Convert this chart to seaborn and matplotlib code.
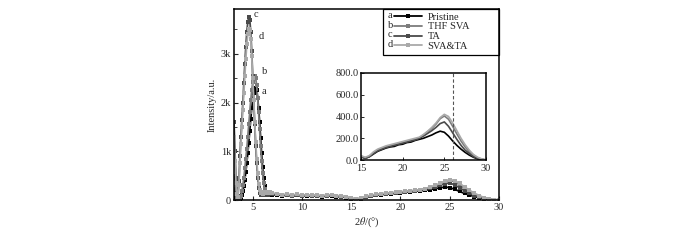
import matplotlib
matplotlib.use("Agg")
import matplotlib.pyplot as plt
import seaborn as sns
import pandas as pd
from matplotlib.lines import Line2D
from matplotlib.patches import Rectangle
from matplotlib.ticker import MultipleLocator

# 2-theta grid (deg)
two_theta = [3.1, 3.2, 3.3, 3.4, 3.5, 3.6, 3.7, 3.8, 3.9, 4.0, 4.1, 4.2, 4.3, 4.4,
             4.5, 4.6, 4.7, 4.8, 4.9, 5.0, 5.1, 5.2, 5.3, 5.4, 5.5, 5.6, 5.7, 5.8,
             5.9, 6.0, 6.1, 6.2, 6.3, 6.4, 6.5, 6.6, 6.8, 7.0,
             7.5, 8.0, 8.5, 9.0, 9.5, 10.0, 10.5, 11.0, 11.5, 12.0, 12.5, 13.0,
             13.5, 14.0, 14.5, 15.0, 15.5, 16.0, 16.5, 17.0, 17.5, 18.0, 18.5,
             19.0, 19.5, 20.0, 20.5, 21.0, 21.5, 22.0, 22.5, 23.0, 23.5, 24.0,
             24.5, 25.0, 25.5, 26.0, 26.5, 27.0, 27.5, 28.0, 28.5, 29.0, 29.5, 30.0]

pristine = [300, 180, 70, 25, 10, 10, 20, 50, 100, 180, 290, 420, 580, 760,
            960, 1180, 1420, 1660, 1880, 2060, 2200, 2280, 2300, 2250, 2100, 1880,
            1600, 1280, 960, 680, 450, 280, 170, 120, 100, 110, 130, 100,
            110, 90, 100, 80, 95, 85, 90, 75, 85, 70, 80, 90, 70, 65, 50, 30, 15, 30,
            55, 80, 95, 110, 120, 125, 140, 145, 160, 165, 180, 190, 200, 215, 230,
            250, 265, 255, 220, 175, 135, 100, 70, 45, 25, 10, 5, 0]

thf_sva = [500, 300, 120, 40, 20, 20, 40, 90, 180, 300, 450, 650, 850, 1050,
           1300, 1550, 1800, 2050, 2250, 2420, 2520, 2550, 2500, 2350, 2100, 1800,
           1450, 1100, 800, 550, 350, 220, 150, 120, 140, 120, 140, 115,
           120, 100, 110, 95, 105, 90, 100, 85, 95, 80, 90, 100, 80, 75, 60, 35, 20,
           35, 65, 90, 105, 120, 130, 140, 150, 160, 170, 180, 190, 205, 230, 260,
           290, 330, 380, 405, 375, 310, 240, 175, 120, 75, 45, 20, 8, 0]

ta = [1600, 1000, 450, 150, 80, 400, 900, 1300, 1650, 2000, 2400, 2800, 3150, 3450,
      3650, 3750, 3700, 3450, 3050, 2550, 2050, 1550, 1100, 750, 450, 250,
      150, 110, 120, 100, 130, 110, 140, 120, 130, 110, 140, 120,
      115, 95, 105, 90, 100, 85, 95, 80, 90, 75, 85, 95, 75, 70, 55, 30, 15, 30,
      60, 85, 100, 115, 125, 135, 145, 155, 165, 175, 185, 200, 220, 245, 270,
      300, 335, 350, 310, 250, 190, 135, 90, 60, 30, 15, 5, 0]

sva_ta = [1300, 800, 350, 120, 60, 300, 750, 1150, 1500, 1850, 2200, 2550, 2900, 3200,
          3400, 3500, 3480, 3300, 2950, 2500, 2050, 1600, 1200, 850, 550, 330,
          200, 140, 150, 130, 160, 140, 170, 150, 160, 140, 170, 140,
          130, 110, 120, 105, 115, 100, 110, 95, 105, 90, 100, 110, 90, 85, 65, 40,
          25, 40, 75, 100, 115, 130, 140, 150, 160, 170, 180, 190, 200, 210, 235,
          265, 300, 340, 390, 420, 400, 340, 270, 200, 140, 90, 50, 25, 10, 0]

series_names = ["Pristine", "THF SVA", "TA", "SVA&TA"]
series_tags = ["a", "b", "c", "d"]
series_colors = ["#000000", "#7c7c7c", "#4a4a4a", "#a9a9a9"]
ref_angle = 26.0

df = pd.DataFrame({"two_theta": two_theta, "Pristine": pristine, "THF SVA": thf_sva,
                   "TA": ta, "SVA&TA": sva_ta})

sns.set_theme(style="ticks")
plt.rcParams["font.family"] = ["Liberation Serif", "DejaVu Serif"]
plt.rcParams["mathtext.fontset"] = "stix"
plt.rcParams["xtick.direction"] = "in"
plt.rcParams["ytick.direction"] = "in"
fs = 7.5

W, H = 700, 240
fig = plt.figure(figsize=(7, 2.4), dpi=100)
ax = fig.add_axes([234 / W, 1 - 200 / H, 265 / W, 191 / H])

for name, col in zip(series_names, series_colors):
    sns.lineplot(data=df, x="two_theta", y=name, ax=ax, color=col, lw=1.3,
                 marker="s", markersize=2.5, markeredgewidth=0, sort=False)

ax.set_xlim(3.1, 30)
ax.set_ylim(0, 3920)
ax.set_xticks([5, 10, 15, 20, 25, 30])
ax.set_yticks([0, 1000, 2000, 3000])
ax.set_yticklabels(["0", "1k", "2k", "3k"])
ax.yaxis.set_minor_locator(MultipleLocator(500))
ax.tick_params(labelsize=fs, length=3, width=0.8, pad=2)
ax.tick_params(which="minor", length=2, width=0.6)
for s in ax.spines.values():
    s.set_linewidth(1.1)
    s.set_color("black")
ax.set_xlabel(r"2$\theta$/(°)", fontsize=fs, labelpad=3)
ax.set_ylabel("Intensity/a.u.", fontsize=fs, labelpad=3)

# curve tags
ax.text(5.05, 3800, "c", fontsize=fs, va="center")
ax.text(5.55, 3350, "d", fontsize=fs, va="center")
ax.text(5.9, 2630, "b", fontsize=fs, va="center")
ax.annotate("a", xy=(5.45, 2230), xytext=(5.9, 2230), fontsize=fs, va="center",
            arrowprops=dict(arrowstyle="-", color="black", lw=0.7, shrinkA=0, shrinkB=0))

# legend
handles = [Line2D([], [], color=c, lw=1.3, marker="s", markersize=2.5,
                  markeredgewidth=0) for c in series_colors]
fig.legend(handles, series_names, loc="upper left",
           bbox_to_anchor=(388 / W, 1 - 6 / H), frameon=False, fontsize=fs,
           handlelength=2.7, handletextpad=0.5, labelspacing=0.05, borderpad=0.1)
for i, tag in enumerate(series_tags):
    fig.text(388 / W, 1 - (15.5 + 9.6 * i) / H, tag, fontsize=fs, va="center")
fig.patches.append(Rectangle((383 / W, 1 - 55 / H), 116 / W, 46 / H,
                             transform=fig.transFigure, fill=False,
                             edgecolor="black", lw=0.9))

# inset
axin = fig.add_axes([361 / W, 1 - 160 / H, 125 / W, 87 / H])
inset_df = df[df["two_theta"] >= 15]
for name, col in zip(series_names, series_colors):
    sns.lineplot(data=inset_df, x="two_theta", y=name, ax=axin, color=col, lw=1.2,
                 sort=False)
axin.axvline(ref_angle, color="#555555", lw=0.8, ls=(0, (3, 2)))
axin.set_xlim(15, 30)
axin.set_ylim(0, 800)
axin.set_xticks([15, 20, 25, 30])
axin.set_yticks([0, 200, 400, 600, 800])
axin.set_yticklabels(["0.0", "200.0", "400.0", "600.0", "800.0"])
axin.tick_params(labelsize=fs, length=2.5, width=0.7, pad=1.5)
axin.tick_params(axis="x", pad=3)
axin.set_xlabel("")
axin.set_ylabel("")
for s in axin.spines.values():
    s.set_linewidth(1.1)
    s.set_color("black")

fig.savefig("out.png", dpi=100)
